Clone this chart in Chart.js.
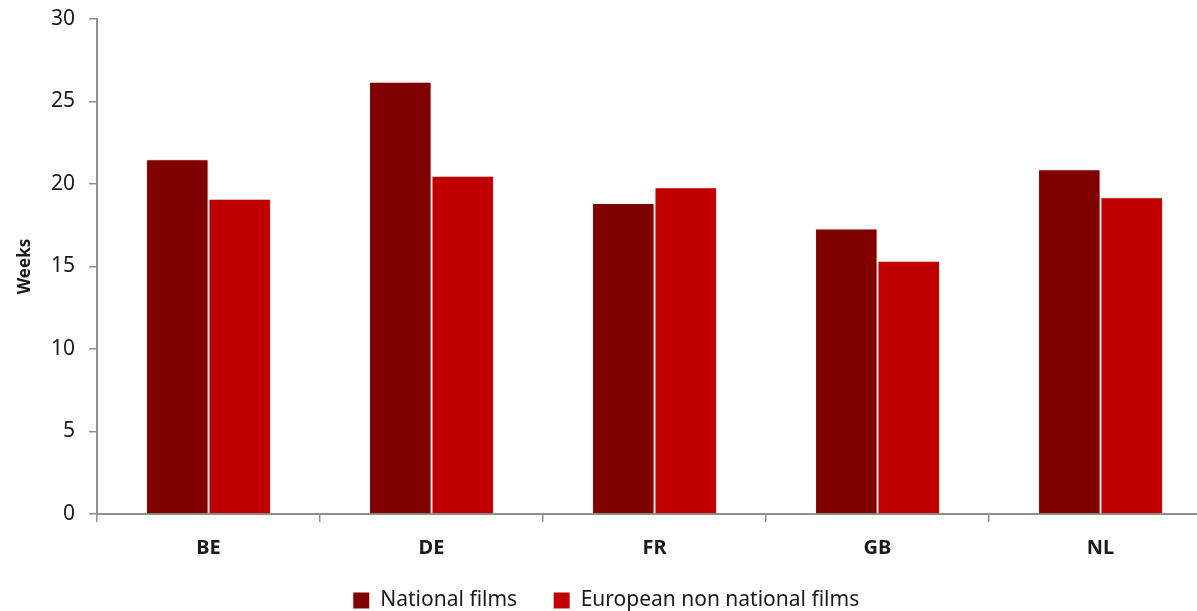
<!DOCTYPE html>
<html>
<head>
<meta charset="utf-8">
<script src="https://cdn.jsdelivr.net/npm/chart.js@4.4.0/dist/chart.umd.min.js"></script>
<style>
    html, body { margin: 0; padding: 0; background: #fff; overflow: hidden; }
    #Wrap { width: 1226px; height: 611px; }
</style>
</head>
<body>
<div id="Wrap"><canvas id="WeeksChart" width="1226" height="611"></canvas></div>
<script>
const Countries = ["BE", "DE", "FR", "GB", "NL"];
const NationalFilms = [21.5, 26.2, 18.85, 17.3, 20.9];
const EuropeanFilms = [19.1, 20.5, 19.8, 15.35, 19.2];
const YTicks = [0, 5, 10, 15, 20, 25, 30];

const FontFamily = "'Noto Sans', 'Open Sans', sans-serif";
const AxisColor = '#8f8f8f';
const TextColor = '#1a1a1a';

// faint drop shadow behind the bars
const barShadow = {
    id: 'barShadow',
    beforeDatasetsDraw(chart) {
        const ctx = chart.ctx;
        ctx.save();
        ctx.shadowColor = 'rgba(0,0,0,0.22)';
        ctx.shadowBlur = 4;
        ctx.shadowOffsetX = 1;
        ctx.shadowOffsetY = 1;
    },
    afterDatasetsDraw(chart) {
        chart.ctx.restore();
    }
};

new Chart(document.getElementById('WeeksChart'), {
    type: 'bar',
    data: {
        labels: Countries,
        datasets: [
            {
                label: 'National films',
                data: NationalFilms,
                backgroundColor: '#800000',
                borderColor: '#ffffff',
                borderWidth: 1,
            },
            {
                label: 'European non national films',
                data: EuropeanFilms,
                backgroundColor: '#c00000',
                borderColor: '#ffffff',
                borderWidth: 1,
            },
        ]
    },
    plugins: [barShadow],
    options: {
        responsive: false,
        animation: false,
        devicePixelRatio: 1,
        layout: { padding: { top: 19, right: 14, left: 0, bottom: -10 } },
        datasets: {
            bar: { categoryPercentage: 0.56, barPercentage: 1 }
        },
        plugins: {
            tooltip: { enabled: false },
            legend: {
                position: 'bottom',
                labels: {
                    color: TextColor,
                    font: { family: FontFamily, size: 21 },
                    boxWidth: 17,
                    boxHeight: 17,
                    padding: 36,
                }
            }
        },
        scales: {
            x: {
                grid: {
                    offset: true,
                    drawOnChartArea: false,
                    drawTicks: true,
                    tickLength: 8,
                    color: AxisColor,
                    lineWidth: 1.5,
                },
                border: { color: AxisColor, width: 2 },
                ticks: {
                    color: TextColor,
                    padding: 14,
                    font: { family: FontFamily, size: 20, weight: 'bold' }
                },
                afterFit(scale) { scale.height = 40; }
            },
            y: {
                min: 0,
                max: 30,
                afterBuildTicks(scale) { scale.ticks = YTicks.map(v => ({ value: v })); },
                grid: {
                    drawOnChartArea: false,
                    drawTicks: true,
                    tickLength: 8,
                    color: AxisColor,
                    lineWidth: 1.5,
                },
                border: { color: AxisColor, width: 2 },
                ticks: {
                    color: TextColor,
                    padding: 14,
                    font: { family: FontFamily, size: 21 }
                },
                title: {
                    display: true,
                    text: 'Weeks',
                    color: TextColor,
                    padding: { top: 15, bottom: 0 },
                    font: { family: FontFamily, size: 17, weight: 'bold' }
                },
                afterFit(scale) {
                    scale.width = 97;
                    // let the top label overflow the padding, as in the original
                    scale.paddingTop = 0;
                    scale.paddingBottom = 0;
                }
            }
        }
    }
});
</script>
</body>
</html>
